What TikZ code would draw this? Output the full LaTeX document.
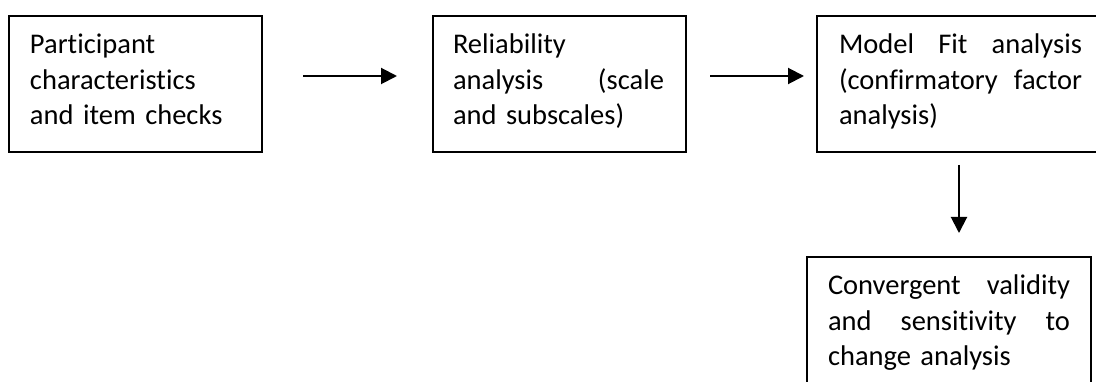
\documentclass[tikz,border=0pt]{standalone}
\usepackage{fontspec}
\setmainfont{Carlito}[Ligatures=NoCommon]
\usetikzlibrary{arrows.meta,calc}
% one line whose interword spaces are stretched to the given width
\newcommand\spreadline[2]{\leavevmode\hbox to #1{\spaceskip=\fontdimen2\font plus 1fil\relax #2}}
\begin{document}
\begin{tikzpicture}[x=1pt,y=-1pt,
  stage/.style={draw, line width=1.8pt, minimum width=253pt, minimum height=136pt,
    inner sep=0pt, outer sep=0pt, anchor=north west},
  widestage/.style={stage, minimum width=284pt},
  caption/.style={anchor=base west, inner sep=0pt, outer sep=0pt, align=left,
    font=\fontsize{28.5}{35.5}\selectfont},
  flow/.style={-{Triangle[length=16pt,width=16pt]}, line width=2pt}]
\useasboundingbox (0,0) rectangle (1096,382);
\clip (0,0) rectangle (1096,382);
\fill[white] (0,0) rectangle (1096,382);

% stage boxes
\node[stage] (b1) at (9,16) {};
\node[stage] (b2) at (433,16) {};
\node[widestage] (b3) at (817,16) {};
\node[widestage] (b4) at (807,257) {};

% stage texts
\node[caption, text width=211pt] (t1) at ($(b1.north west)+(21,38)$)
  {Participant\\characteristics\\and item checks};
\node[caption, text width=211pt] (t2) at ($(b2.north west)+(20,38)$)
  {Reliability\\\spreadline{211pt}{analysis (scale}\\and subscales)};
\node[caption, text width=243pt] (t3) at ($(b3.north west)+(22,38)$)
  {\spreadline{243pt}{Model Fit analysis}\\\spreadline{243pt}{(confirmatory factor}\\analysis)};
\node[caption, text width=242pt] (t4) at ($(b4.north west)+(21,38)$)
  {\spreadline{242pt}{Convergent validity}\\\spreadline{242pt}{and sensitivity to}\\change analysis};

% flow arrows
\draw[flow, shorten <=41pt, shorten >=36pt] ([yshift=8pt]b1.east) -- ([yshift=8pt]b2.west);
\draw[flow, shorten <=24pt, shorten >=13pt] ([yshift=8pt]b2.east) -- ([yshift=8pt]b3.west);
\draw[flow, shorten <=13pt, shorten >=24pt] (b3.south) -- (b3.south |- b4.north);
\end{tikzpicture}
\end{document}
